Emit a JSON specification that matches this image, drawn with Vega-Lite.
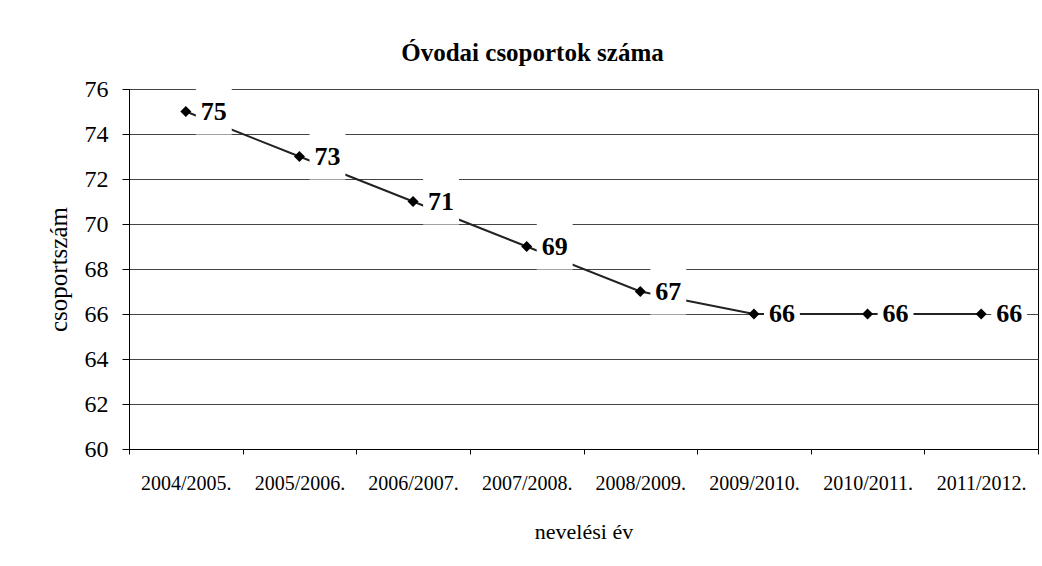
{
  "$schema": "https://vega.github.io/schema/vega-lite/v6.json",
  "width": 909,
  "height": 360,
  "autosize": {"type": "none"},
  "padding": {"left": 129, "top": 89, "right": 4, "bottom": 117},
  "background": "white",
  "config": {"view": {"stroke": "#000", "strokeWidth": 1}, "font": "Liberation Serif"},
  "title": {"text": "Óvodai csoportok száma", "font": "Liberation Serif", "fontSize": 25, "fontWeight": "bold", "color": "#000", "anchor": "middle", "dx": -51, "dy": 43, "baseline": "alphabetic", "offset": 34},
  "data": {"values": [
    {"ev": "2004/2005.", "csoport": 75},
    {"ev": "2005/2006.", "csoport": 73},
    {"ev": "2006/2007.", "csoport": 71},
    {"ev": "2007/2008.", "csoport": 69},
    {"ev": "2008/2009.", "csoport": 67},
    {"ev": "2009/2010.", "csoport": 66},
    {"ev": "2010/2011.", "csoport": 66},
    {"ev": "2011/2012.", "csoport": 66}
  ]},
  "encoding": {
    "x": {"field": "ev", "type": "nominal", "sort": null,
      "scale": {"type": "band", "paddingInner": 0, "paddingOuter": 0},
      "axis": {"title": "nevelési év", "titleFontSize": 22, "titleFont": "Liberation Serif", "titleFontWeight": "normal", "titleColor": "#000", "titlePadding": 28,
        "labelFontSize": 20, "labelFont": "Liberation Serif", "labelColor": "#000", "labelPadding": 19, "labelAngle": 0,
        "tickBand": "extent", "tickSize": 5, "tickColor": "#000", "domainColor": "#000", "grid": false}},
    "y": {"field": "csoport", "type": "quantitative",
      "scale": {"domain": [60, 76], "nice": false, "zero": false},
      "axis": {"title": "csoportszám", "titleFontSize": 25, "titleFont": "Liberation Serif", "titleFontWeight": "normal", "titleColor": "#000", "titlePadding": 13,
        "values": [60, 62, 64, 66, 68, 70, 72, 74, 76],
        "labelFontSize": 24, "labelFont": "Liberation Serif", "labelColor": "#000", "labelPadding": 14,
        "tickSize": 7, "tickColor": "#000", "domainColor": "#000", "grid": true, "gridColor": "#444", "gridOpacity": 1}}
  },
  "layer": [
    {"mark": {"type": "line", "color": "#222", "strokeWidth": 2}},
    {"mark": {"type": "point", "shape": "M-0.78,-1L0.78,-1L0.78,1L-0.78,1Z", "size": 2116, "filled": true, "color": "white", "opacity": 1, "xOffset": 28}},
    {"mark": {"type": "point", "shape": "diamond", "size": 120, "filled": true, "color": "#000", "opacity": 1}},
    {"mark": {"type": "text", "dx": 28, "align": "center", "baseline": "middle", "fontSize": 26, "fontWeight": "bold", "font": "Liberation Serif", "color": "#000"},
      "encoding": {"text": {"field": "csoport", "type": "quantitative"}}}
  ]
}
